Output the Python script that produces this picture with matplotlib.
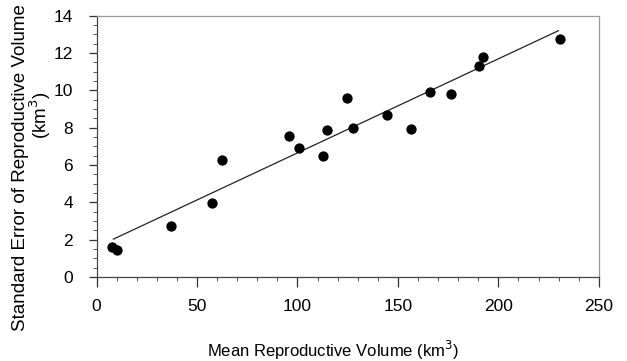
import matplotlib
matplotlib.use('Agg')
import matplotlib.pyplot as plt
import numpy as np
from matplotlib.ticker import MultipleLocator

plt.rcParams['font.family'] = ['Liberation Sans', 'DejaVu Sans']

# mean reproductive volume (km^3) and its standard error
mean_vol = [7.8, 10.1, 37.2, 57.4, 62.4, 95.9, 100.9, 112.6, 114.9, 124.8,
            127.8, 144.8, 156.7, 165.8, 176.2, 190.4, 192.4, 230.6]
se_vol = [1.58, 1.45, 2.70, 3.98, 6.27, 7.56, 6.90, 6.50, 7.88, 9.58,
          7.99, 8.68, 7.91, 9.90, 9.81, 11.31, 11.80, 12.73]

# regression line
slope = 0.0504
intercept = 1.60
fit_x = [8.4, 229.9]

fig = plt.figure(figsize=(6.27, 3.61), dpi=100)
ax = fig.add_axes([0.154, 0.233, 0.801, 0.724])

ax.scatter(mean_vol, se_vol, s=55, color='black', zorder=3, linewidths=0)
fx = np.array(fit_x)
ax.plot(fx, slope * fx + intercept, color='#222222', lw=0.9)

ax.set_xlim(0, 250)
ax.set_ylim(0, 14)
ax.xaxis.set_major_locator(MultipleLocator(50))
ax.xaxis.set_minor_locator(MultipleLocator(10))
ax.yaxis.set_major_locator(MultipleLocator(2))
ax.yaxis.set_minor_locator(MultipleLocator(0.5))
ax.tick_params(axis='x', which='major', length=7, width=0.9, pad=9,
               labelsize=12.5, color='#333333')
ax.tick_params(axis='x', which='minor', length=3, width=0.7, color='#555555')
ax.tick_params(axis='y', which='major', length=6, width=0.9, pad=11,
               labelsize=12.5, color='#333333')
ax.tick_params(axis='y', which='minor', length=3, width=0.7, color='#555555')
for name, sp in ax.spines.items():
    sp.set_linewidth(0.9)
    sp.set_color('#444444' if name in ('left', 'bottom') else '#999999')

fig.text(0.531, 0.030, 'Mean Reproductive Volume (km$^3$)', fontsize=12,
         ha='center', va='center')
fig.text(0.032, 0.537, 'Standard Error of Reproductive Volume', fontsize=13.5,
         ha='center', va='center', rotation=90)
fig.text(0.064, 0.681, '(km$^3$)', fontsize=13.5, ha='center', va='center',
         rotation=90)

fig.savefig('out.png', dpi=100)
